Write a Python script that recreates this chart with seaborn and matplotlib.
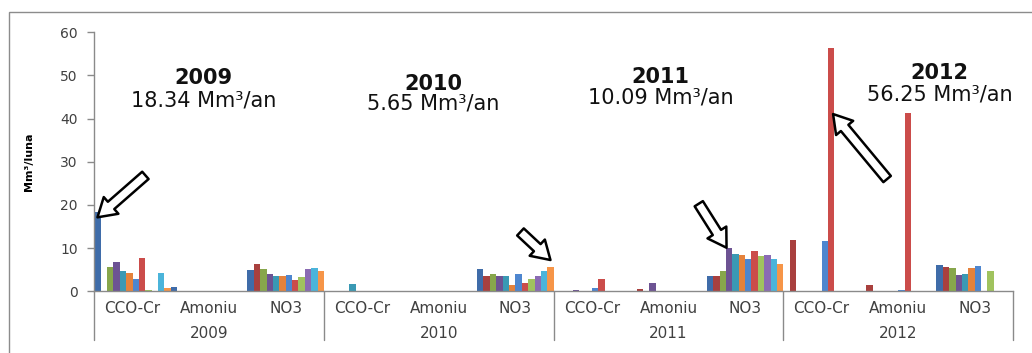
import numpy as np
import pandas as pd
import matplotlib
matplotlib.use("Agg")
import matplotlib.pyplot as plt
import matplotlib.transforms as mtransforms
from matplotlib.patches import Rectangle
import seaborn as sns

# ---- data: monthly volumes (Mm3/luna) per year and indicator ----
years = ["2009", "2010", "2011", "2012"]
indicators = ["CCO-Cr", "Amoniu", "NO3"]
months = ["Ian", "Feb", "Mar", "Apr", "Mai", "Iun",
          "Iul", "Aug", "Sep", "Oct", "Noi", "Dec"]

cco_2009 = [18.34, 0, 5.6, 6.8, 4.8, 4.3, 2.9, 7.7, 0.2, 0, 4.2, 0.8]
amoniu_2009 = [0.9, 0, 0, 0, 0, 0, 0, 0, 0, 0, 0, 0]
no3_2009 = [4.9, 6.3, 5.2, 4.0, 3.5, 3.6, 3.8, 2.7, 3.3, 5.1, 5.3, 4.8]

cco_2010 = [0, 0, 0, 0, 1.8, 0, 0, 0, 0, 0, 0, 0]
amoniu_2010 = [0, 0, 0, 0, 0, 0, 0, 0, 0, 0, 0, 0]
no3_2010 = [5.2, 3.5, 4.1, 3.6, 3.6, 1.5, 3.9, 1.9, 2.9, 3.5, 4.6, 5.65]

cco_2011 = [0, 0, 0, 0.3, 0, 0, 0.8, 2.8, 0, 0, 0, 0]
amoniu_2011 = [0, 0.5, 0, 1.9, 0, 0, 0, 0, 0, 0, 0, 0]
no3_2011 = [3.5, 3.6, 4.7, 10.09, 8.6, 8.4, 7.5, 9.4, 8.2, 8.4, 7.5, 6.3]

cco_2012 = [0, 11.8, 0, 0, 0, 0, 11.6, 56.25, 0, 0, 0, 0]
amoniu_2012 = [0, 1.5, 0, 0, 0, 0, 0.3, 41.2, 0, 0, 0, 0]
no3_2012 = [6.0, 5.6, 5.5, 3.7, 4.0, 5.4, 5.9, 0, 4.8, 0, 0, 0]

series = {
    "2009": [cco_2009, amoniu_2009, no3_2009],
    "2010": [cco_2010, amoniu_2010, no3_2010],
    "2011": [cco_2011, amoniu_2011, no3_2011],
    "2012": [cco_2012, amoniu_2012, no3_2012],
}

# yearly totals written above each group, with the month they point to
year_totals = ["18.34", "5.65", "10.09", "56.25"]
highlight = [("2009", "CCO-Cr", 0), ("2010", "NO3", 11),
             ("2011", "NO3", 3), ("2012", "CCO-Cr", 7)]

month_colors = ["#3F6CA9", "#A9403E", "#87A64B", "#6D5393", "#3A99B4", "#E5823C",
                "#4E86CF", "#CB4C4A", "#A0C35E", "#8A6BB3", "#4BB4DA", "#F69548"]

# ---- long table ----
rows = []
slots = []
for y in years:
    for ind, vals in zip(indicators, series[y]):
        slot = f"{y}|{ind}"
        slots.append(slot)
        for m, v in zip(months, vals):
            rows.append({"slot": slot, "month": m, "value": v})
df = pd.DataFrame(rows)

sns.set_style("white")
plt.rcParams["font.family"] = ["DejaVu Sans"]

W, H = 1032, 353
fig = plt.figure(figsize=(W / 100, H / 100), dpi=100)
fig.patch.set_facecolor("white")

ax_left, ax_right, ax_base, ax_top = 94.3, 1013.0, 291.3, 32.3
ax = fig.add_axes([ax_left / W, (H - ax_base) / H,
                   (ax_right - ax_left) / W, (ax_base - ax_top) / H])

sns.barplot(data=df, x="slot", y="value", hue="month", order=slots,
            hue_order=months, palette=month_colors, width=1.0, gap=0,
            saturation=1, errorbar=None, legend=False, edgecolor="none",
            linewidth=0, ax=ax)

ax.set_xlim(-0.5, len(slots) - 0.5)
ax.set_ylim(0, 60)
ax.set_yticks(np.arange(0, 61, 10))
ax.set_xticks([])
ax.set_xlabel("")
ax.set_ylabel("Mm³/luna", fontsize=8, fontweight="bold", color="#000000")
ax.yaxis.set_label_coords(-0.066, 0.5)

spine_c = "#8a8a8a"
for s in ["top", "right"]:
    ax.spines[s].set_visible(False)
for s in ["left", "bottom"]:
    ax.spines[s].set_color(spine_c)
    ax.spines[s].set_linewidth(1)
ax.tick_params(axis="y", direction="out", length=5, width=1, color=spine_c,
               labelsize=10, labelcolor="#404040", pad=7, left=True)

# multi-level category axis
trans = mtransforms.blended_transform_factory(ax.transData, ax.transAxes)
axh = ax_base - ax_top
for i, slot in enumerate(slots):
    ax.text(i, -17 / axh, slot.split("|")[1], transform=trans, ha="center",
            va="center", fontsize=11, color="#404040")
n_ind = len(indicators)
for j, y in enumerate(years):
    center = j * n_ind + (n_ind - 1) / 2
    ax.text(center, -42 / axh, y, transform=trans, ha="center", va="center",
            fontsize=11, color="#404040")
for b in np.arange(-0.5, len(slots), n_ind):
    ax.plot([b, b], [0, -48.5 / axh], transform=trans, color=spine_c, lw=1,
            clip_on=False)

# yearly totals
label_x = [0.93, 3.93, 6.90, 10.54]
label_y = [(49.4, 44.3), (48.0, 43.4), (49.6, 45.0), (50.6, 45.5)]
for y, tot, lx, (ty, sy) in zip(years, year_totals, label_x, label_y):
    ax.text(lx, ty, y, ha="center", va="center", fontsize=15,
            fontweight="bold", color="#111111")
    ax.text(lx, sy, f"{tot} Mm³/an", ha="center", va="center", fontsize=15,
            color="#111111")

# block arrows pointing at the peak month of each year
bar_w = 1.0 / len(months)
arrow_specs = [  # (dx in bar widths, dy in data units, tail offset in points)
    (0.0, -1.2, (34.5, 30.2)),
    (0.0, 1.6, (-21.6, 20.2)),
    (-0.4, 0.0, (-20.0, 31.7)),
    (0.3, None, (38.9, -46.8)),
]
for (y, ind, m), (dx, dy, off) in zip(highlight, arrow_specs):
    slot_i = slots.index(f"{y}|{ind}")
    val = series[y][indicators.index(ind)][m]
    bx = slot_i - 0.5 + (m + 0.5 + dx) * bar_w
    by = val * 0.73 if dy is None else val + dy
    ax.annotate("", xy=(bx, by), xytext=off, textcoords="offset points",
                arrowprops=dict(arrowstyle="simple,head_length=0.65,head_width=0.8,tail_width=0.35",
                                mutation_scale=20, fc="white", ec="black",
                                lw=1.8, shrinkA=0, shrinkB=0),
                annotation_clip=False)

# outer frame
fig.add_artist(Rectangle((9 / W, -0.05), 1.2, (H - 12) / H + 0.05,
                         transform=fig.transFigure, fill=False,
                         ec="#8c8c8c", lw=1))

fig.savefig("out.png", dpi=100, facecolor="white")
